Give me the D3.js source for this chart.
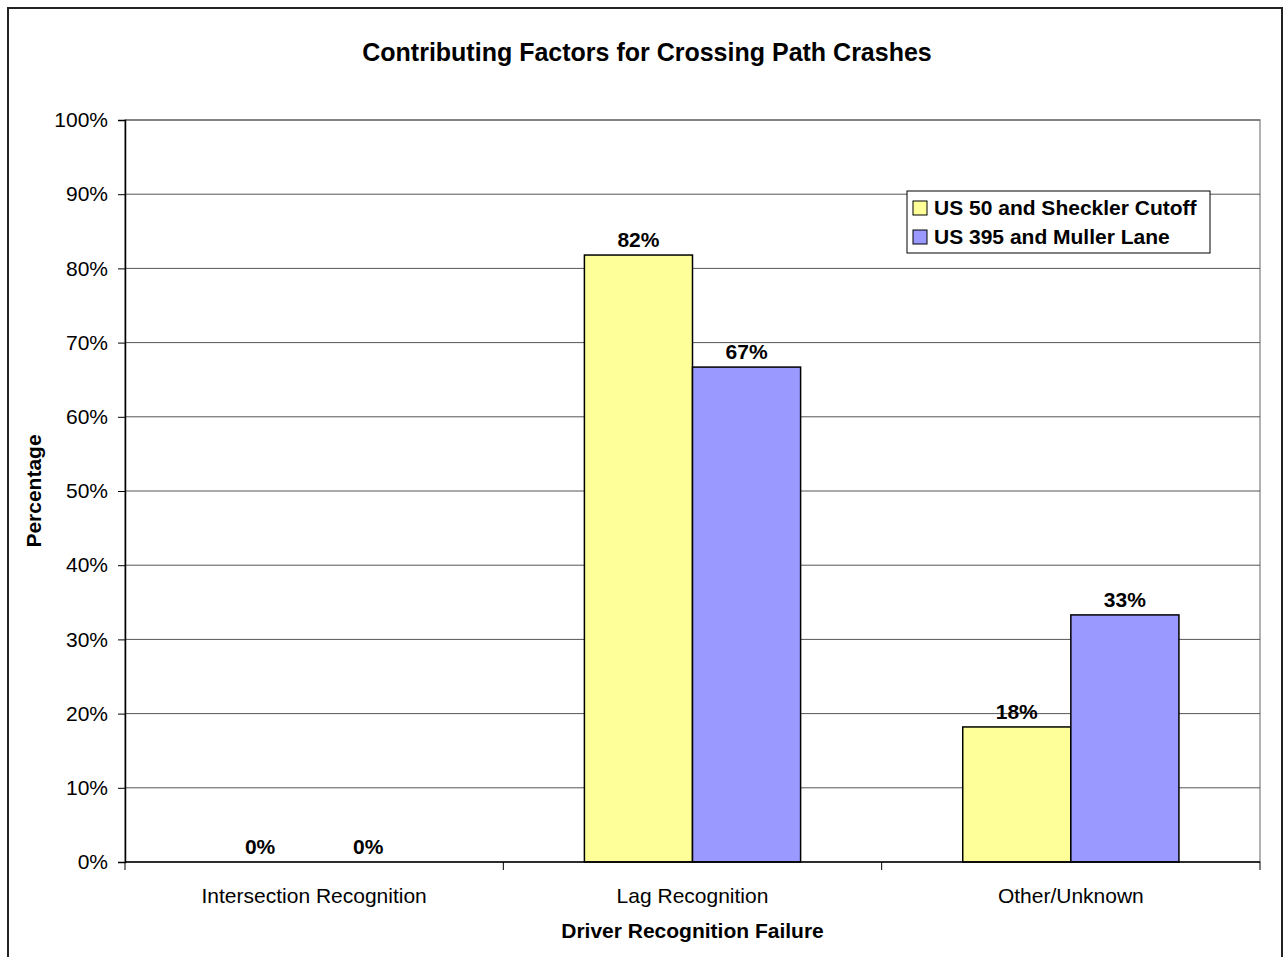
<!DOCTYPE html>
<html>
<head>
<meta charset="utf-8">
<script src="https://cdn.jsdelivr.net/npm/d3@7"></script>
<style>
  body { margin: 0; background: #fff; }
  text { font-family: "Liberation Sans", Arial, sans-serif; }
</style>
</head>
<body>
<div id="chart"></div>
<script>
const categories = ['Intersection Recognition', 'Lag Recognition', 'Other/Unknown']
const seriesNames = ['US 50 and Sheckler Cutoff', 'US 395 and Muller Lane']
const sheckler = [0, 81.8, 18.2]
const muller = [0, 66.7, 33.3]
const yTicks = [0, 10, 20, 30, 40, 50, 60, 70, 80, 90, 100]
const colors = ['#ffff99', '#9999ff']

const W = 1286, H = 957
const plot = { left: 125, top: 120, right: 1260, bottom: 862 }

const svg = d3.select('#chart').append('svg')
  .attr('width', W).attr('height', H)

// outer chart border (bottom edge is cut off in the original)
svg.append('path')
  .attr('d', `M8,${H + 5}V8H1282V${H + 5}`)
  .attr('fill', 'none').attr('stroke', '#222').attr('stroke-width', 2)

const x0 = d3.scaleBand().domain(categories).range([plot.left, plot.right])
const x1 = d3.scaleBand().domain(seriesNames)
  .range([0, x0.bandwidth()]).paddingInner(0).paddingOuter(0.75)
const y = d3.scaleLinear().domain([0, 100]).range([plot.bottom, plot.top])

// plot area frame (grey)
svg.append('rect')
  .attr('x', plot.left).attr('y', plot.top)
  .attr('width', plot.right - plot.left).attr('height', plot.bottom - plot.top)
  .attr('fill', 'none').attr('stroke', '#999').attr('stroke-width', 1.5)

// gridlines
svg.append('g').selectAll('line')
  .data(yTicks.filter(d => d > 0))
  .join('line')
  .attr('x1', plot.left).attr('x2', plot.right)
  .attr('y1', d => y(d)).attr('y2', d => y(d))
  .attr('stroke', '#555').attr('stroke-width', 1)

// bars
const rows = categories.map((c, i) => ({ cat: c, vals: [sheckler[i], muller[i]] }))
const groups = svg.append('g').selectAll('g')
  .data(rows).join('g')
  .attr('transform', d => `translate(${x0(d.cat)},0)`)

groups.selectAll('rect')
  .data(d => d.vals.map((v, k) => ({ name: seriesNames[k], v, k })))
  .join('rect')
  .attr('x', d => x1(d.name))
  .attr('width', x1.bandwidth())
  .attr('y', d => y(d.v))
  .attr('height', d => y(0) - y(d.v))
  .attr('fill', d => colors[d.k])
  .attr('stroke', '#000').attr('stroke-width', 1.5)
  .style('display', d => d.v > 0 ? null : 'none')

groups.selectAll('text')
  .data(d => d.vals.map((v, k) => ({ name: seriesNames[k], v })))
  .join('text')
  .attr('x', d => x1(d.name) + x1.bandwidth() / 2)
  .attr('y', d => y(d.v) - 8)
  .attr('text-anchor', 'middle')
  .attr('font-size', 21).attr('font-weight', 'bold')
  .text(d => Math.round(d.v) + '%')

// y axis with minor ticks
const yAxis = svg.append('g').attr('transform', `translate(${plot.left},0)`)
yAxis.call(d3.axisLeft(y).tickValues(d3.range(0, 101, 1)).tickSize(5).tickFormat(''))
yAxis.call(d3.axisLeft(y).tickValues(yTicks).tickSize(7).tickPadding(10).tickFormat(d => d + '%'))
yAxis.selectAll('path.domain').attr('stroke', '#000').attr('stroke-width', 1.5)
yAxis.selectAll('line').attr('stroke', '#000')
yAxis.selectAll('text').attr('font-size', 21).attr('fill', '#000')
  .attr('font-family', '"Liberation Sans", Arial, sans-serif')

// x axis
const xAxis = svg.append('g').attr('transform', `translate(0,${plot.bottom})`)
xAxis.append('line')
  .attr('x1', plot.left).attr('x2', plot.right)
  .attr('stroke', '#000').attr('stroke-width', 1.5)
xAxis.selectAll('line.tk')
  .data(categories.map(c => x0(c)).concat([plot.right]))
  .join('line').attr('class', 'tk')
  .attr('x1', d => d).attr('x2', d => d)
  .attr('y1', 0).attr('y2', 8)
  .attr('stroke', '#000')
xAxis.selectAll('text')
  .data(categories).join('text')
  .attr('x', d => x0(d) + x0.bandwidth() / 2)
  .attr('y', 41)
  .attr('text-anchor', 'middle')
  .attr('font-size', 21)
  .text(d => d)

// titles
svg.append('text')
  .attr('x', 647).attr('y', 61)
  .attr('text-anchor', 'middle')
  .attr('font-size', 25).attr('font-weight', 'bold')
  .text('Contributing Factors for Crossing Path Crashes')

svg.append('text')
  .attr('x', (plot.left + plot.right) / 2).attr('y', 938)
  .attr('text-anchor', 'middle')
  .attr('font-size', 21).attr('font-weight', 'bold')
  .text('Driver Recognition Failure')

svg.append('text')
  .attr('transform', `translate(41,${(plot.top + plot.bottom) / 2}) rotate(-90)`)
  .attr('text-anchor', 'middle')
  .attr('font-size', 21).attr('font-weight', 'bold')
  .text('Percentage')

// legend
const legend = svg.append('g').attr('transform', 'translate(907,191)')
legend.append('rect')
  .attr('width', 303).attr('height', 62)
  .attr('fill', '#fff').attr('stroke', '#000').attr('stroke-width', 1)
const items = legend.selectAll('g.item')
  .data(seriesNames).join('g').attr('class', 'item')
  .attr('transform', (d, i) => `translate(6,${10 + i * 29})`)
items.append('rect')
  .attr('width', 14).attr('height', 14)
  .attr('fill', (d, i) => colors[i])
  .attr('stroke', '#000').attr('stroke-width', 1)
items.append('text')
  .attr('x', 21).attr('y', 14)
  .attr('font-size', 21).attr('font-weight', 'bold')
  .text(d => d)
</script>
</body>
</html>
